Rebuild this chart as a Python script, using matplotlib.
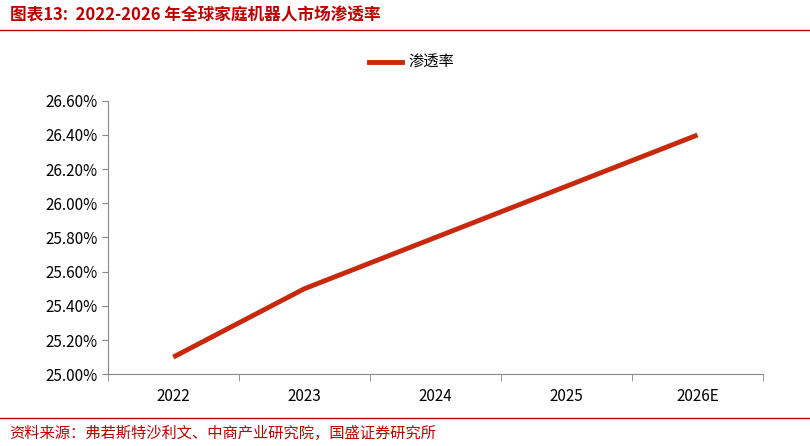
import matplotlib
matplotlib.use("Agg")
import matplotlib.pyplot as plt
from matplotlib.lines import Line2D

plt.rcParams['font.family'] = ['Noto Sans CJK SC', 'DejaVu Sans']

years = ["2022", "2023", "2024", "2025", "2026E"]
rate = [25.10, 25.50, 25.80, 26.10, 26.40]
yticks = [25.0, 25.2, 25.4, 25.6, 25.8, 26.0, 26.2, 26.4, 26.6]

red = "#C00000"
line_c = "#C8290C"

fig = plt.figure(figsize=(8.1, 4.46), dpi=100)
ax = fig.add_axes([0.133, 0.161, 0.809, 0.613])

x = list(range(len(years)))
ax.plot(x, rate, color=line_c, lw=3.5, solid_capstyle="butt")
ax.set_xlim(-0.5, len(years) - 0.5)
ax.set_ylim(25.0, 26.6)
ax.set_yticks(yticks)
ax.set_yticklabels([f"{v:.2f}%" for v in yticks], fontsize=11)
ax.set_xticks(x)
ax.set_xticklabels(years, fontsize=11)
ax.tick_params(axis="x", length=0, pad=10)
ax.set_xticks([i - 0.5 for i in range(len(years) + 1)], minor=True)
ax.tick_params(axis="x", which="minor", length=5, color="#888888")
ax.tick_params(axis="y", length=4, color="#888888")
for s in ["top", "right"]:
    ax.spines[s].set_visible(False)
for s in ["left", "bottom"]:
    ax.spines[s].set_color("#888888")

leg = [Line2D([0], [0], color=line_c, lw=3.5)]
fig.legend(leg, ["渗透率"], loc="center", bbox_to_anchor=(0.508, 0.86),
           frameon=False, fontsize=11, handlelength=2.2, handletextpad=0.4)

fig.text(0.012, 0.965, "图表13:  2022-2026 年全球家庭机器人市场渗透率", color=red,
         fontsize=12, style="italic", weight="bold", va="center")
fig.add_artist(Line2D([0.0, 1.0], [0.933, 0.933], color=red, lw=1))
fig.add_artist(Line2D([0.0, 1.0], [0.063, 0.063], color=red, lw=1))
fig.text(0.012, 0.028, "资料来源：弗若斯特沙利文、中商产业研究院，国盛证券研究所", color=red,
         fontsize=11, style="italic", va="center")

fig.savefig("out.png", dpi=100)
